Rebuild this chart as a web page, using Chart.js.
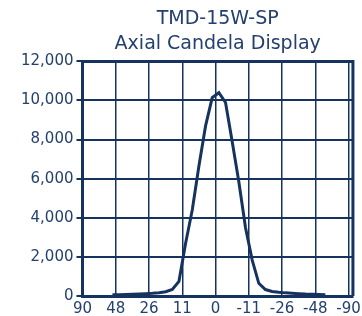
<!DOCTYPE html>
<html>
<head>
<meta charset="utf-8">
<script src="https://cdn.jsdelivr.net/npm/chart.js@4/dist/chart.umd.min.js"></script>
<style>
  html, body { margin: 0; padding: 0; background: #fff; }
  #wrap { width: 362px; height: 316px; }
</style>
</head>
<body>
<div id="wrap"><canvas id="candelaChart"></canvas></div>
<script>
// angle labels along the bottom (one per gridline)
const angleLabels = ['90', '48', '26', '11', '0', '-11', '-26', '-48', '-90'];
const labelPos = [0, 5, 10, 15, 20, 25, 30, 35, 40];

// measured points: position on the angle axis, candela value
const pointPos = [4.5, 5.5, 6.5, 7.5, 8.5, 9.5, 10.5, 11.5, 12.5, 13.5, 14.5, 15.5, 16.5,
  17.5, 18.5, 19.5, 20.5, 21.5, 22.5, 23.5, 24.5, 25.5, 26.5, 27.5, 28.5, 29.5, 30.5,
  31.5, 32.5, 33.5, 34.5, 35.5, 36.5];
const candela = [60, 70, 80, 90, 105, 120, 140, 170, 220, 330, 750, 2700, 4400,
  6650, 8700, 10150, 10400, 9900, 7900, 5850, 3500, 1850, 650, 330, 230, 190, 160,
  140, 120, 100, 90, 80, 70];

const yTicks = [0, 2000, 4000, 6000, 8000, 10000, 12000];

const navy = '#16335f';
const textNavy = '#23406e';
const fontFamily = '"DejaVu Sans", Verdana, sans-serif';

// top + right frame lines (Chart.js only draws left/bottom borders)
const frame = {
  id: 'frame',
  afterDatasetsDraw(chart) {
    const { ctx, chartArea: a } = chart;
    ctx.save();
    ctx.strokeStyle = navy;
    ctx.lineWidth = 3;
    ctx.beginPath();
    ctx.moveTo(a.left, a.top);
    ctx.lineTo(a.right, a.top);
    ctx.lineTo(a.right, a.bottom);
    ctx.stroke();
    ctx.restore();
  }
};

new Chart(document.getElementById('candelaChart'), {
  type: 'line',
  data: {
    datasets: [{
      data: pointPos.map((p, i) => ({ x: p, y: candela[i] })),
      borderColor: navy,
      borderWidth: 3,
      pointRadius: 0,
      tension: 0,
      fill: false
    }]
  },
  options: {
    responsive: true,
    maintainAspectRatio: false,
    animation: false,
    layout: { padding: { left: 18, right: 4, top: 7, bottom: -6 } },
    plugins: {
      legend: { display: false },
      tooltip: { enabled: false },
      title: {
        display: true,
        fullSize: false,
        text: ['TMD-15W-SP', 'Axial Candela Display'],
        color: textNavy,
        font: { family: fontFamily, size: 19, weight: 'normal', lineHeight: 1.3 },
        padding: { top: 0, bottom: 5 }
      }
    },
    scales: {
      x: {
        type: 'linear',
        min: 0,
        max: 40.65,
        afterBuildTicks: axis => { axis.ticks = labelPos.map(v => ({ value: v })); },
        ticks: {
          color: textNavy,
          font: { family: fontFamily, size: 15, lineHeight: 1.6 },
          padding: 1,
          maxRotation: 0,
          autoSkip: false,
          callback: (v, i) => angleLabels[i]
        },
        grid: { color: navy, lineWidth: 1.5, drawTicks: false },
        border: { display: true, color: navy, width: 3 }
      },
      y: {
        min: 0,
        max: 12000,
        afterBuildTicks: axis => { axis.ticks = yTicks.map(v => ({ value: v })); },
        ticks: {
          color: textNavy,
          font: { family: fontFamily, size: 15 },
          padding: 3,
          callback: v => v.toLocaleString('en-US')
        },
        grid: { color: navy, lineWidth: 2, tickLength: 6 },
        border: { display: true, color: navy, width: 3 }
      }
    }
  },
  plugins: [frame]
});
</script>
</body>
</html>
